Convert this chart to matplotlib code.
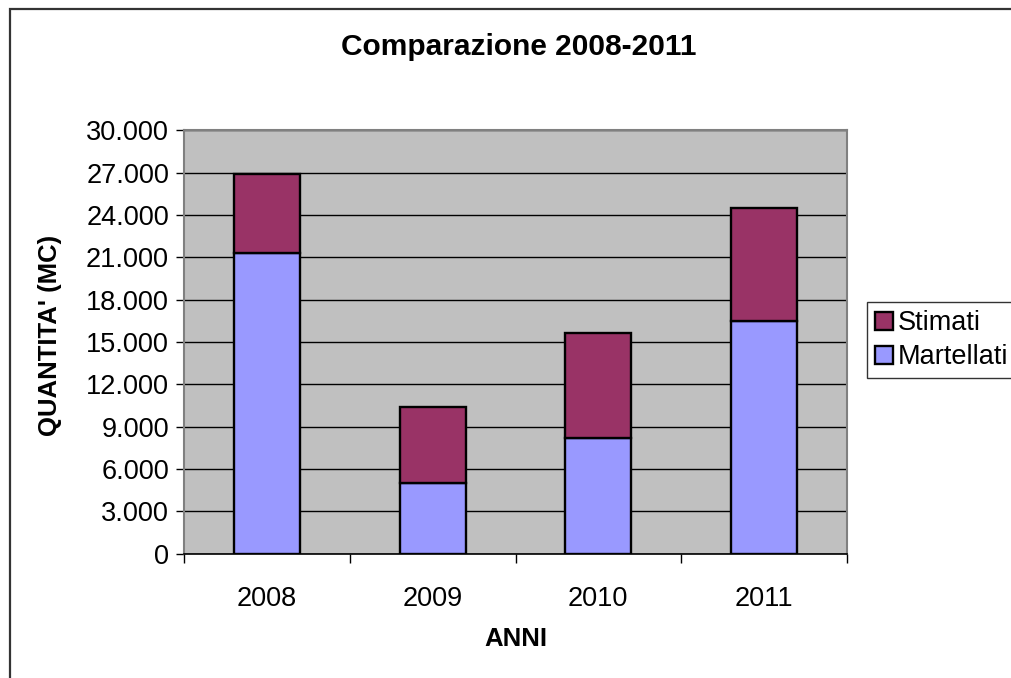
import numpy as np
import matplotlib.pyplot as plt
from matplotlib.patches import Rectangle

anni = ['2008', '2009', '2010', '2011']
martellati = [21300, 5000, 8200, 16450]
stimati = [5600, 5400, 7400, 8050]   # quota sopra i martellati
y_ticks = list(range(0, 30001, 3000))

plt.rcParams['font.family'] = ['Liberation Sans', 'DejaVu Sans']

W, H = 1011, 678
fig = plt.figure(figsize=(W / 100, H / 100), dpi=100)

# bordo esterno del grafico (tagliato a destra e in basso)
fig.patches.append(Rectangle((10 / W, -0.05), 1.1, 1 - 9 / H + 0.05, transform=fig.transFigure,
                             fill=False, edgecolor='#333333', linewidth=1.6))

# area del grafico in pixel
x0, x1 = 184.3, 846.7
y0, y1 = 553.6, 130.3
ax = fig.add_axes([x0 / W, 1 - y0 / H, (x1 - x0) / W, (y0 - y1) / H])
ax.set_facecolor('#C0C0C0')

x = np.arange(len(anni))
ax.bar(x, martellati, width=0.4, color='#9999FF', edgecolor='black', linewidth=1.7,
       label='Martellati', zorder=3)
ax.bar(x, stimati, width=0.4, bottom=martellati, color='#993366', edgecolor='black',
       linewidth=1.7, label='Stimati', zorder=3)

ax.set_xlim(-0.5, 3.5)
ax.set_ylim(0, 30000)
ax.set_yticks(y_ticks)
ax.set_yticklabels([f'{v:,}'.replace(',', '.') for v in y_ticks], fontsize=19.5)
ax.yaxis.grid(True, color='black', linewidth=1.0, zorder=1)
ax.set_axisbelow(True)

ax.set_xticks(np.arange(-0.5, 4, 1))
ax.set_xticklabels([])
ax.set_xticks(x, minor=True)
ax.set_xticklabels(anni, minor=True, fontsize=19.5)
ax.tick_params(axis='x', which='major', length=6.5, width=1, direction='out', color='black')
ax.tick_params(axis='x', which='minor', length=0, pad=23)
ax.tick_params(axis='y', length=6, width=1, direction='out', pad=5)

for s in ['left', 'top', 'right']:
    ax.spines[s].set_color('#808080')
    ax.spines[s].set_linewidth(1.5)
ax.spines['bottom'].set_color('black')
ax.spines['bottom'].set_linewidth(1.2)

fig.text(519 / W, 1 - 47 / H, 'Comparazione 2008-2011', ha='center', va='center',
         fontsize=21.5, fontweight='bold')
fig.text(516 / W, 1 - 639 / H, 'ANNI', ha='center', va='center', fontsize=18.5, fontweight='bold')
fig.text(50 / W, 1 - 335 / H, "QUANTITA' (MC)", ha='center', va='center', rotation=90,
         fontsize=18.5, fontweight='bold')

h, l = ax.get_legend_handles_labels()
leg = fig.legend(h[::-1], l[::-1], loc='upper left', bbox_to_anchor=(867 / W, 1 - 302 / H),
                 fontsize=19.5, frameon=True, fancybox=False, edgecolor='black',
                 handlelength=0.65, handleheight=0.65, handletextpad=0.2, borderpad=0.3,
                 labelspacing=0.3, borderaxespad=0)
leg.get_frame().set_linewidth(1.0)

fig.savefig('out.png', dpi=100)
